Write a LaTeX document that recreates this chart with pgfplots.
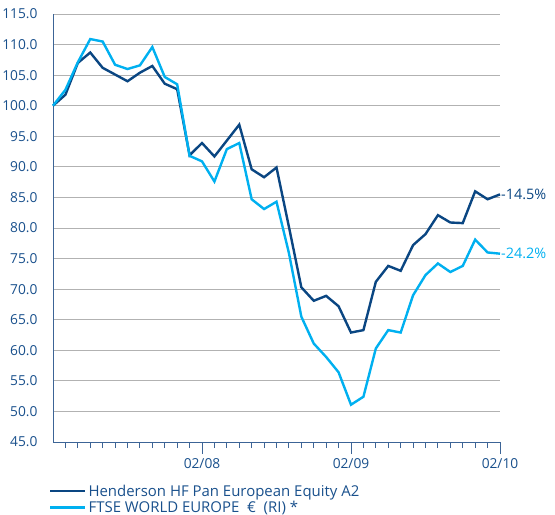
\documentclass[border=0pt]{standalone}
\usepackage{fontspec}
\setmainfont{Open Sans}
\usepackage{pgfplots}
\pgfplotsset{compat=1.18}
\definecolor{hend}{RGB}{10,70,130}
\definecolor{ftse}{RGB}{0,176,240}
\definecolor{txt}{RGB}{25,80,140}
\definecolor{axl}{RGB}{60,100,150}
\begin{document}
\begin{tikzpicture}
\path[use as bounding box] (0,0) rectangle (555bp,515bp);
\begin{axis}[
  at={(53bp,73bp)}, anchor=south west,
  scale only axis, width=447bp, height=428bp,
  xmin=0, xmax=36, ymin=45, ymax=115,
  axis x line=bottom, axis y line=left,
  axis line style={-, color=axl, line width=0.9bp},
  xtick={12,24,36}, xticklabels={02/08,02/09,02/10},
  minor xtick={1,...,35},
  tick align=outside,
  major tick length=12bp, minor tick length=6bp,
  xtick style={color=axl, line width=0.9bp},
  ytick={45,50,...,115},
  ytick style={draw=none},
  ymajorgrids, grid style={color=black!30, line width=1bp},
  tick label style={font=\fontsize{13.8}{16}\selectfont, color=txt},
  yticklabel style={/pgf/number format/.cd, fixed, fixed zerofill, precision=1, assume math mode=true},
  xticklabel style={yshift=-1bp},
  legend style={at={(axis description cs:-0.009,-0.096)}, anchor=north west, draw=none, fill=none,
    font=\fontsize{15}{17}\selectfont, text=txt, row sep=0.5bp, inner sep=0pt,
    nodes={inner ysep=1.5bp, inner xsep=2bp}},
  legend cell align=left,
  legend image code/.code={\draw[#1] (0bp,0bp) -- (28bp,0bp); \path (0bp,0bp) -- (35bp,0bp);},
  clip=false,
]
\addplot[color=hend, line width=2.4bp] coordinates {
(0,100.0) (1,101.8) (2,107.0) (3,108.7) (4,106.2) (5,105.1) (6,104.0) (7,105.4) (8,106.5) (9,103.6) (10,102.7)
(11,91.9) (12,93.9) (13,91.7) (14,94.3) (15,96.9) (16,89.6) (17,88.3) (18,89.9) (19,80.2) (20,70.3)
(21,68.1) (22,68.9) (23,67.2) (24,62.9) (25,63.3) (26,71.2) (27,73.8) (28,73.0) (29,77.2) (30,79.0)
(31,82.1) (32,80.9) (33,80.8) (34,86.0) (35,84.7) (36,85.5)};
\addlegendentry{Henderson HF Pan European Equity A2}
\addplot[color=ftse, line width=2.4bp] coordinates {
(0,100.0) (1,102.6) (2,107.1) (3,110.9) (4,110.5) (5,106.7) (6,106.0) (7,106.6) (8,109.6) (9,104.7) (10,103.5)
(11,91.8) (12,90.9) (13,87.6) (14,92.9) (15,93.9) (16,84.7) (17,83.1) (18,84.3) (19,75.9) (20,65.5)
(21,61.1) (22,58.9) (23,56.4) (24,51.1) (25,52.4) (26,60.3) (27,63.3) (28,62.9) (29,69.0) (30,72.3)
(31,74.2) (32,72.8) (33,73.8) (34,78.1) (35,76.0) (36,75.8)};
\addlegendentry{FTSE WORLD EUROPE\ \ €\ \ (RI) *}
\node[anchor=west, inner sep=1bp, text=hend, font=\fontsize{14.5}{16}\selectfont] at (axis cs:36,85.5) {-14.5\%};
\node[anchor=west, inner sep=1bp, text=ftse, font=\fontsize{14.5}{16}\selectfont] at (axis cs:36,75.8) {-24.2\%};
\end{axis}
\end{tikzpicture}
\end{document}
